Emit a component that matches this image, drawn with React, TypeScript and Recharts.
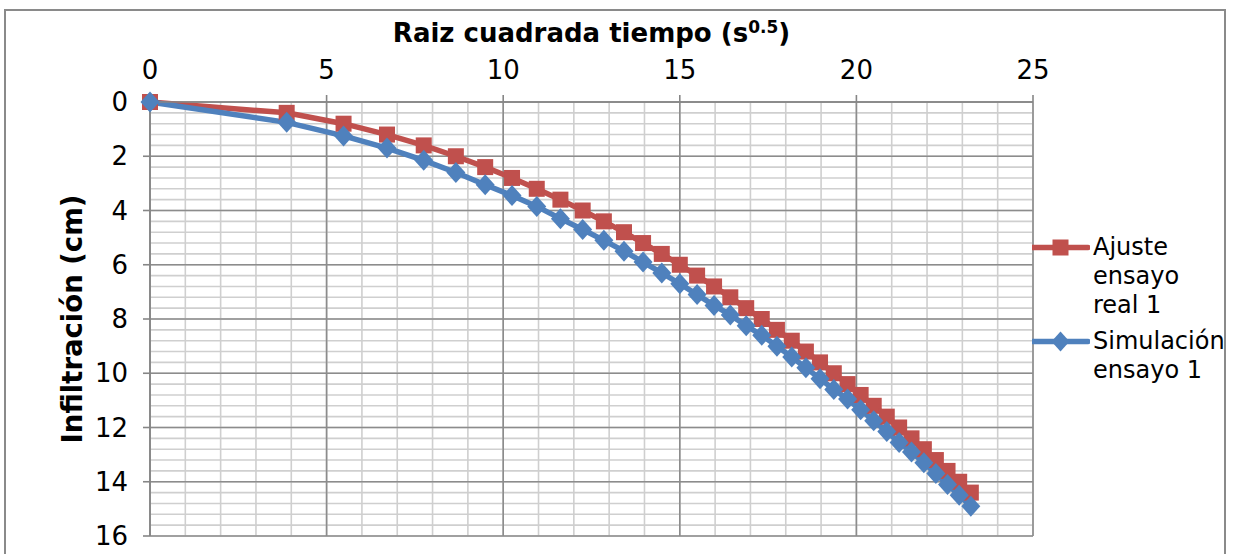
import React from 'react';
import { LineChart, Line, XAxis, YAxis, CartesianGrid, Label } from 'recharts';

// Raíz cuadrada del tiempo (s^0.5) en cada lectura
const rootTimes = [
  0, 3.87, 5.48, 6.71, 7.75, 8.66, 9.49, 10.25, 10.95, 11.62, 12.25, 12.85, 13.42,
  13.96, 14.49, 15.0, 15.49, 15.97, 16.43, 16.88, 17.32, 17.75, 18.17, 18.57, 18.97,
  19.36, 19.75, 20.12, 20.49, 20.86, 21.21, 21.56, 21.91, 22.25, 22.58, 22.91, 23.24,
];

// Infiltración acumulada (cm) – ajuste del ensayo real 1
const ajusteReal1 = [
  0, 0.4, 0.8, 1.2, 1.6, 2.0, 2.4, 2.8, 3.2, 3.6, 4.0, 4.4, 4.8, 5.2, 5.6, 6.0, 6.4,
  6.8, 7.2, 7.6, 8.0, 8.4, 8.8, 9.2, 9.6, 10.0, 10.4, 10.8, 11.2, 11.6, 12.0, 12.4,
  12.8, 13.2, 13.6, 14.0, 14.4,
];

// Infiltración acumulada (cm) – simulación del ensayo 1
const simulacion1 = [
  0, 0.75, 1.25, 1.7, 2.15, 2.6, 3.05, 3.45, 3.85, 4.3, 4.7, 5.1, 5.5, 5.9, 6.3, 6.7,
  7.1, 7.5, 7.85, 8.25, 8.6, 9.0, 9.4, 9.8, 10.2, 10.6, 10.95, 11.35, 11.75, 12.15,
  12.55, 12.9, 13.3, 13.7, 14.1, 14.5, 14.9,
];

const xTicks = [0, 5, 10, 15, 20, 25];
const yTicks = [0, 2, 4, 6, 8, 10, 12, 14, 16];
const xMinorGrid = [
  0, 1, 2, 3, 4, 5, 6, 7, 8, 9, 10, 11, 12, 13, 14, 15, 16, 17, 18, 19, 20, 21, 22, 23, 24, 25,
];
const yMinorGrid = [
  0, 0.4, 0.8, 1.2, 1.6, 2, 2.4, 2.8, 3.2, 3.6, 4, 4.4, 4.8, 5.2, 5.6, 6, 6.4, 6.8, 7.2,
  7.6, 8, 8.4, 8.8, 9.2, 9.6, 10, 10.4, 10.8, 11.2, 11.6, 12, 12.4, 12.8, 13.2, 13.6, 14,
  14.4, 14.8, 15.2, 15.6, 16,
];

const RED = '#C0504D';
const BLUE = '#4F81BD';
const AXIS = '#868686';
const FONT = "'DejaVu Sans', Verdana, sans-serif";

const data = rootTimes.map((t, i) => ({ t, ajuste: ajusteReal1[i], sim: simulacion1[i] }));

// Map grid values through the axis scale (no label-collision thinning)
const applyScale = (axis: any, v: number) => {
  const s = axis && axis.scale;
  if (!s) return NaN;
  if (typeof s === 'function') return s(v);
  if (typeof s.map === 'function') return s.map(v);
  return NaN;
};
const gridRows = (values: number[]) => ({ yAxis }: any) =>
  values.map((v) => applyScale(yAxis, v)).filter((n) => Number.isFinite(n));
const gridCols = (values: number[]) => ({ xAxis }: any) =>
  values.map((v) => applyScale(xAxis, v)).filter((n) => Number.isFinite(n));

const SquareDot = (props: any) => {
  const { cx, cy, index } = props;
  if (cx == null || cy == null) return <g key={`sq-${index}`} />;
  return <rect key={`sq-${index}`} x={cx - 8} y={cy - 8} width={16} height={16} fill={RED} />;
};

const DiamondDot = (props: any) => {
  const { cx, cy, index } = props;
  if (cx == null || cy == null) return <g key={`dm-${index}`} />;
  return (
    <path
      key={`dm-${index}`}
      d={`M${cx},${cy - 10.5} L${cx + 9.5},${cy} L${cx},${cy + 10.5} L${cx - 9.5},${cy} Z`}
      fill={BLUE}
    />
  );
};

const XTitle = (props: any) => {
  const { viewBox } = props;
  const cx = viewBox.x + viewBox.width / 2;
  return (
    <text x={cx} y={42} textAnchor="middle" fontFamily={FONT} fontWeight="bold" fontSize={26} fill="#000">
      Raiz cuadrada tiempo (s
      <tspan dy={-9} fontSize={17}>0.5</tspan>
      <tspan dy={9}>)</tspan>
    </text>
  );
};

const YTitle = (props: any) => {
  const { viewBox } = props;
  const cy = viewBox.y + viewBox.height / 2;
  return (
    <text
      x={72}
      y={cy}
      transform={`rotate(-90, 72, ${cy})`}
      textAnchor="middle"
      dominantBaseline="central"
      fontFamily={FONT}
      fontWeight="bold"
      fontSize={27.5}
      fill="#000"
    >
      Infiltración (cm)
    </text>
  );
};

const legendItems = [
  { lines: ['Ajuste', 'ensayo', 'real 1'], color: RED, marker: 'square' },
  { lines: ['Simulación', 'ensayo 1'], color: BLUE, marker: 'diamond' },
];

const LegendBox = () => (
  <div
    style={{
      position: 'absolute',
      left: 1032,
      top: 233,
      fontFamily: FONT,
      fontSize: 24,
      lineHeight: '29px',
      color: '#000',
    }}
  >
    {legendItems.map((item, i) => (
      <div key={i} style={{ display: 'flex', alignItems: 'flex-start', marginBottom: 7 }}>
        <svg width={58} height={29} style={{ flex: 'none' }}>
          <line x1={1} y1={14.5} x2={56} y2={14.5} stroke={item.color} strokeWidth={5.5} strokeLinecap="round" />
          {item.marker === 'square' ? (
            <rect x={20.5} y={6.5} width={16} height={16} fill={item.color} />
          ) : (
            <path d="M28.5,4.5 L37.5,14.5 L28.5,24.5 L19.5,14.5 Z" fill={item.color} />
          )}
        </svg>
        <div style={{ marginLeft: 3 }}>
          {item.lines.map((l, j) => (
            <div key={j} style={{ whiteSpace: 'nowrap' }}>{l}</div>
          ))}
        </div>
      </div>
    ))}
  </div>
);

export default function App() {
  return (
    <div
      style={{
        position: 'absolute',
        left: 0,
        top: 0,
        width: 1233,
        height: 554,
        overflow: 'hidden',
        background: '#fff',
      }}
    >
      <LineChart
        width={1233}
        height={554}
        data={data}
        margin={{ top: 42, right: 200, bottom: 18, left: 50 }}
      >
        <CartesianGrid
          horizontalCoordinatesGenerator={gridRows(yMinorGrid)}
          verticalCoordinatesGenerator={gridCols(xMinorGrid)}
          stroke="#cfcfcf"
          strokeWidth={1.6}
        />
        <CartesianGrid
          horizontalCoordinatesGenerator={gridRows(yTicks)}
          verticalCoordinatesGenerator={gridCols(xTicks)}
          stroke="#8c8c8c"
          strokeWidth={1.6}
        />
        <XAxis
          dataKey="t"
          type="number"
          orientation="top"
          domain={[0, 25]}
          ticks={xTicks}
          height={60}
          tickSize={7}
          tickMargin={16}
          axisLine={{ stroke: AXIS, strokeWidth: 1.6 }}
          tickLine={{ stroke: AXIS, strokeWidth: 1.6 }}
          tick={{ fill: '#000', fontSize: 26, fontFamily: FONT }}
        >
          <Label content={<XTitle />} />
        </XAxis>
        <YAxis
          type="number"
          domain={[0, 16]}
          reversed
          ticks={yTicks}
          width={100}
          tickSize={7}
          tickMargin={15}
          axisLine={{ stroke: AXIS, strokeWidth: 1.6 }}
          tickLine={{ stroke: AXIS, strokeWidth: 1.6 }}
          tick={{ fill: '#000', fontSize: 26, fontFamily: FONT }}
        >
          <Label content={<YTitle />} />
        </YAxis>
        <Line
          type="linear"
          dataKey="ajuste"
          name="Ajuste ensayo real 1"
          stroke={RED}
          strokeWidth={5.5}
          dot={SquareDot}
          activeDot={false}
          isAnimationActive={false}
        />
        <Line
          type="linear"
          dataKey="sim"
          name="Simulación ensayo 1"
          stroke={BLUE}
          strokeWidth={5.5}
          dot={DiamondDot}
          activeDot={false}
          isAnimationActive={false}
        />
      </LineChart>
      <LegendBox />
      <div
        style={{
          position: 'absolute',
          left: 4,
          top: 9,
          width: 1222,
          height: 600,
          border: '2px solid #8a8a8a',
          boxSizing: 'border-box',
          pointerEvents: 'none',
        }}
      />
    </div>
  );
}
